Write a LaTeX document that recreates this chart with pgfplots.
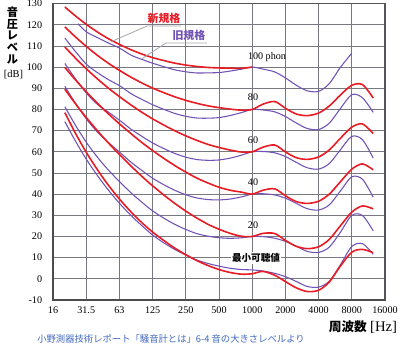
\documentclass[border=0pt]{standalone}
\usepackage{pgfplots}
\pgfplotsset{compat=1.18}
\usepackage{pgfplotstable}
\usepackage{fontspec}
\setmainfont{Liberation Serif}
\newfontfamily\jp{Noto Sans CJK JP}
\definecolor{newred}{RGB}{232,28,36}
\definecolor{oldpur}{RGB}{112,82,180}
\definecolor{gridc}{RGB}{120,120,128}
\definecolor{capblue}{RGB}{65,105,190}

% ISO 226:2003 (new standard, red)
\pgfplotstableread{
f     t     p20    p40    p60    p80
20    78.5  89.58  99.85  109.51 118.99
25    68.7  82.65  93.94  104.23 114.23
31.5  59.5  75.98  88.17  99.08  109.65
40    51.1  69.62  82.63  94.18  105.34
50    44.0  64.02  77.78  89.96  101.72
63    37.5  58.55  73.08  85.94  98.36
80    31.5  53.19  68.48  82.05  95.17
100   26.5  48.38  64.37  78.65  92.48
125   22.1  43.94  60.59  75.56  90.09
160   17.9  39.37  56.70  72.47  87.82
200   14.4  35.51  53.41  69.86  85.92
250   11.4  31.99  50.40  67.53  84.31
315   8.6   28.69  47.58  65.39  82.89
400   6.2   25.67  45.19  63.45  81.68
500   4.4   23.43  43.26  62.05  80.86
630   3.0   21.48  41.85  60.82  80.17
800   2.2   20.10  40.94  59.89  79.67
1000  2.4   20.01  40.01  60.00  80.00
1250  3.5   21.46  41.82  62.15  82.48
1600  1.7   21.40  42.51  63.19  83.74
2000  -1.3  18.15  39.23  59.96  80.59
2500  -4.2  15.38  36.51  57.26  77.88
3150  -6.0  14.26  35.61  56.42  77.08
4000  -5.4  15.14  36.65  57.57  78.31
5000  -1.5  18.64  40.01  60.89  81.62
6300  6.0   25.02  45.83  66.36  86.81
8000  12.6  31.52  51.80  71.66  91.41
10000 13.9  34.42  54.28  73.16  91.74
12500 12.3  33.04  51.49  68.63  85.41
}\newiso

\pgfplotstableread{
f    p100
20   128.41
25   124.15
31.5 120.11
40   116.38
50   113.35
63   110.65
80   108.16
100  106.17
125  104.48
160  103.03
200  101.85
250  100.97
315  100.30
400  99.83
500  99.62
630  99.50
800  99.44
1000 100.00
}\newhundred

% ISO 226:1987 (old standard, purple)
\pgfplotstableread{
f     t     p20    p40    p60    p80
20    74.3  81.30  90.98  101.73 113.74
25    65.0  72.50  82.89  94.43  107.33
31.5  56.3  64.30  75.37  87.62  101.27
40    48.4  57.10  69.04  82.15  97.20
50    41.7  51.20  64.26  78.65  94.00
63    35.5  45.80  59.74  74.81  91.15
80    29.8  40.54  55.02  70.60  87.41
100   25.1  36.18  51.16  67.29  84.73
125   20.7  32.10  47.53  64.19  82.23
160   16.8  28.47  44.28  61.38  79.93
200   13.8  25.66  41.75  59.16  78.07
250   11.2  23.31  39.72  57.48  76.77
315   8.9   21.36  38.20  56.34  75.95
400   7.2   20.11  37.44  55.98  75.88
500   6.0   19.42  37.27  56.15  76.17
630   5.0   19.14  37.69  57.00  77.13
800   4.4   19.39  38.71  58.42  78.53
1000  4.2   20.00  40.00  60.00  80.00
1250  3.7   19.94  40.19  60.13  79.76
1600  2.6   19.17  39.62  59.52  78.87
2000  1.0   17.69  38.10  57.75  76.67
2500  -1.2  15.44  35.68  55.07  73.66
3150  -3.6  12.97  33.15  52.48  71.02
4000  -3.9  12.46  32.50  51.84  70.51
5000  -1.1  14.98  34.93  54.44  73.53
6300  6.6   21.98  41.46  60.93  80.41
8000  15.3  30.00  48.20  67.30  87.00
10000 16.6  29.90  47.00  65.70  85.50
12500 11.6  22.70  38.59  57.01  78.61
}\oldiso

\pgfplotstableread{
f    p100
26.3 120.50
31.5 116.58
40   113.80
50   111.30
63   108.91
80   105.60
100  103.64
125  101.84
160  100.13
200  98.68
250  97.79
315  97.23
400  97.29
500  97.43
630  98.13
800  99.05
1000 100.00
1250 99.08
1600 97.72
2000 94.91
2500 91.49
3150 88.82
4000 88.54
5000 92.21
6300 99.88
8000 106.56
}\oldhundred

\begin{document}
\begin{tikzpicture}[x=1pt,y=1pt]
\path[use as bounding box] (0,0) rectangle (300,259.5);
\begin{axis}[
  at={(39.75pt,34.5pt)}, anchor=south west,
  scale only axis, width=249pt, height=222.3pt,
  xmode=log, xmin=15.625, xmax=16000, ymin=-10, ymax=130,
  xtick={15.625,31.25,62.5,125,250,500,1000,2000,4000,8000,16000},
  xticklabels={16,31.5,63,125,250,500,1000,2000,4000,8000,16000},
  ytick={-10,0,10,20,30,40,50,60,70,80,90,100,110,120,130},
  yticklabels={-10,0,10,20,30,40,50,60,70,80,90,100,110,120,130},
  major tick length=0pt, minor tick length=0pt,
  grid=major, major grid style={gridc, line width=0.65pt},
  axis line style={draw=gridc!70!black, line width=0.8pt},
  tick label style={font=\fontsize{7.6}{8}\selectfont},
  yticklabel style={inner sep=0pt, xshift=-8pt},
  xticklabel style={inner sep=0pt, yshift=-5pt},
  clip=false,
]
% old standard (purple)
\addplot[oldpur, line width=0.8pt, smooth] table[x=f,y=t]{\oldiso};
\addplot[oldpur, line width=0.8pt, smooth] table[x=f,y=p20]{\oldiso};
\addplot[oldpur, line width=0.8pt, smooth] table[x=f,y=p40]{\oldiso};
\addplot[oldpur, line width=0.8pt, smooth] table[x=f,y=p60]{\oldiso};
\addplot[oldpur, line width=0.8pt, smooth] table[x=f,y=p80]{\oldiso};
\addplot[oldpur, line width=0.8pt, smooth] table[x=f,y=p100]{\oldhundred};
% new standard (red)
\addplot[newred, line width=1.2pt, smooth] table[x=f,y=t]{\newiso};
\addplot[newred, line width=1.2pt, smooth] table[x=f,y=p20]{\newiso};
\addplot[newred, line width=1.2pt, smooth] table[x=f,y=p40]{\newiso};
\addplot[newred, line width=1.2pt, smooth] table[x=f,y=p60]{\newiso};
\addplot[newred, line width=1.2pt, smooth] table[x=f,y=p80]{\newiso};
\addplot[newred, line width=1.2pt, smooth] table[x=f,y=p100]{\newhundred};

\draw[black!70, line width=1.5pt] (rel axis cs:0,1) -- (rel axis cs:0,0) -- (rel axis cs:1,0);

% annotations
\draw[black!35, line width=0.6pt] (axis cs:52.5,112.0) -- (axis cs:111.2,119.4) -- (axis cs:226,119.4);
\node[text=newred, font=\jp\bfseries\fontsize{8.2}{9}\selectfont, inner sep=0pt] at (axis cs:158.6,122.9) {新規格};
\draw[black!35, line width=0.6pt] (axis cs:100.2,104.0) -- (axis cs:165.4,111.4) -- (axis cs:389,111.4);
\node[text=oldpur, font=\jp\bfseries\fontsize{8.2}{9}\selectfont, inner sep=0pt] at (axis cs:267,114.9) {旧規格};

\node[font=\fontsize{7.6}{8}\selectfont, inner sep=0pt] at (axis cs:1362,104.8) {100 phon};
\node[font=\fontsize{7.6}{8}\selectfont, inner sep=0pt] at (axis cs:1017,85.9) {80};
\node[font=\fontsize{7.6}{8}\selectfont, inner sep=0pt] at (axis cs:1017,65.6) {60};
\node[font=\fontsize{7.6}{8}\selectfont, inner sep=0pt] at (axis cs:1017,45.7) {40};
\node[font=\fontsize{7.6}{8}\selectfont, inner sep=0pt] at (axis cs:1017,25.4) {20};
\node[fill=white, inner sep=1pt, font=\jp\bfseries\fontsize{7.2}{8}\selectfont] at (axis cs:1083,9.8) {最小可聴値};
\end{axis}

\node[anchor=north, align=center, inner sep=0pt, font=\jp\bfseries\fontsize{8.4}{8.8}\selectfont] at (9.4,254.5) {音\\圧\\レ\\ベ\\ル};
\node[inner sep=0pt, font=\fontsize{7.8}{9}\selectfont] at (10.1,203.25) {[dB]};
\node[anchor=east, inner sep=0pt] at (298,14.25) {{\jp\bfseries\fontsize{9.5}{11}\selectfont 周波数} {\fontsize{11}{12}\selectfont [Hz]}};
\node[anchor=west, inner sep=0pt, text=capblue, font=\jp\fontsize{7}{8}\selectfont] at (27.75,5.25) {小野測器技術レポート「騒音計とは」6-4 音の大きさレベルより};
\end{tikzpicture}
\end{document}
